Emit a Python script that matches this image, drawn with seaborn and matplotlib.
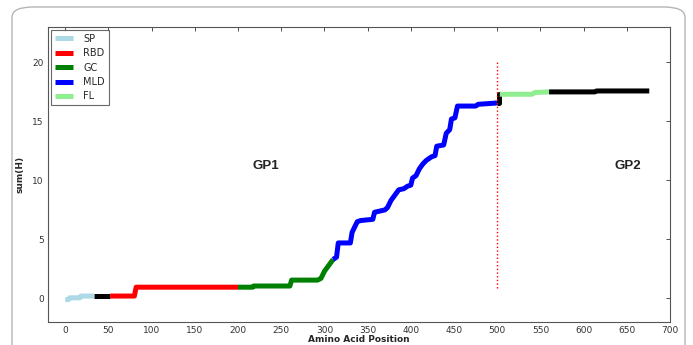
import matplotlib
matplotlib.use("Agg")
import matplotlib.pyplot as plt
from matplotlib.patches import FancyBboxPatch
import seaborn as sns

# Segmentos da curva acumulada sum(H) por posição de aminoácido
sp_x = [0, 4, 5, 17, 18, 33]
sp_y = [-0.1, -0.1, 0.05, 0.05, 0.2, 0.2]

link1_x = [33, 52]
link1_y = [0.2, 0.2]

rbd_x = [52, 80, 82, 200]
rbd_y = [0.2, 0.2, 0.95, 0.95]

gc_x = [200, 217, 218, 260, 262, 292, 296, 300, 305, 310]
gc_y = [0.95, 0.95, 1.05, 1.05, 1.55, 1.55, 1.7, 2.3, 2.8, 3.3]

mld_x = [310, 314, 316, 330, 332, 336, 338, 342, 356, 358, 364, 370, 373, 377,
         382, 386, 392, 396, 400, 402, 406, 410, 414, 418, 424, 428, 430, 438,
         441, 445, 447, 451, 454, 475, 478, 498, 500]
mld_y = [3.3, 3.5, 4.7, 4.7, 5.6, 6.2, 6.5, 6.6, 6.7, 7.3, 7.4, 7.5, 7.7, 8.3,
         8.8, 9.2, 9.3, 9.5, 9.6, 10.2, 10.4, 11.0, 11.4, 11.7, 12.0, 12.1, 12.9, 13.0,
         14.0, 14.3, 15.2, 15.3, 16.3, 16.3, 16.45, 16.55, 16.6]

link2_x = [500, 502, 502, 503]
link2_y = [16.6, 16.6, 17.35, 17.35]

fl_x = [503, 540, 544, 560]
fl_y = [17.3, 17.3, 17.45, 17.5]

tail_x = [560, 613, 615, 676]
tail_y = [17.5, 17.5, 17.58, 17.58]

segments = [
    (sp_x, sp_y, "lightblue", "SP"),
    (link1_x, link1_y, "black", None),
    (rbd_x, rbd_y, "red", "RBD"),
    (gc_x, gc_y, "green", "GC"),
    (mld_x, mld_y, "blue", "MLD"),
    (link2_x, link2_y, "black", None),
    (fl_x, fl_y, "lightgreen", "FL"),
    (tail_x, tail_y, "black", None),
]

sns.set_style("white")
plt.rcParams["font.family"] = ["DejaVu Sans"]

fig = plt.figure(figsize=(6.93, 3.45), dpi=100)
ax = fig.add_axes([48 / 693, 1 - 322 / 345, 622 / 693, 295 / 345])

# moldura arredondada da figura
frame = FancyBboxPatch((12 / 693, -0.2), 673 / 693, 0.2 + 1 - 7 / 345,
                       boxstyle="round,pad=0,rounding_size=0.03",
                       transform=fig.transFigure, fill=False,
                       edgecolor="#b5b5b5", linewidth=1.0, zorder=0)
fig.patches.append(frame)

handles = []
for xs, ys, cor, nome in segments:
    sns.lineplot(x=xs, y=ys, color=cor, linewidth=3.6, sort=False,
                 estimator=None, ax=ax, solid_capstyle="butt")
    if nome:
        handles.append((ax.lines[-1], nome))

ax.plot([500, 500], [0.9, 20], color="red", linestyle=":", linewidth=1.0)

ax.text(232, 11.2, "GP1", fontsize=9.5, fontweight="bold",
        family="Liberation Sans", ha="center", va="center", color="#222")
ax.text(651, 11.2, "GP2", fontsize=9.5, fontweight="bold",
        family="Liberation Sans", ha="center", va="center", color="#222")

ax.set_xlim(-20, 700)
ax.set_ylim(-2, 23)
ax.set_xticks(range(0, 701, 50))
ax.set_yticks([0, 5, 10, 15, 20])
ax.tick_params(direction="in", top=True, right=True, length=3, width=0.6,
               labelsize=6.5, colors="#333", pad=3)
for s in ax.spines.values():
    s.set_color("#555")
    s.set_linewidth(0.8)

ax.set_xlabel("Amino Acid Position", fontsize=6.5, fontweight="bold", labelpad=0)
ax.set_ylabel("sum(H)", fontsize=6.5, fontweight="bold", labelpad=6)

leg = ax.legend([h for h, _ in handles], [n for _, n in handles],
                loc="upper left", fontsize=7, fancybox=False, frameon=True,
                handlelength=1.9, borderaxespad=0.3, labelspacing=0.45,
                handletextpad=1.0)
leg.get_frame().set_edgecolor("#444")
leg.get_frame().set_linewidth(0.8)
for line in leg.get_lines():
    line.set_linewidth(3.6)
    line.set_solid_capstyle("butt")

fig.savefig("out.png", dpi=100)
